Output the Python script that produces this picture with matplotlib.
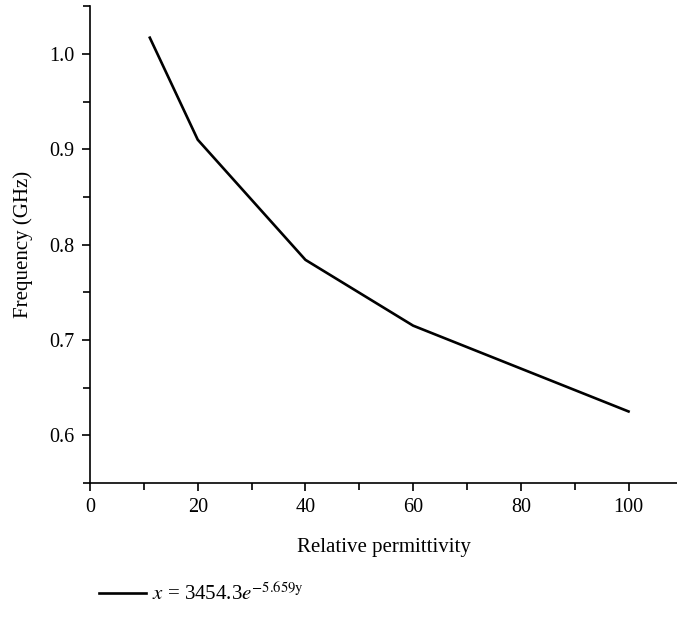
import matplotlib
matplotlib.use("Agg")
from matplotlib import pyplot as plt
from matplotlib.ticker import MultipleLocator, FormatStrFormatter

plt.rcParams['font.family'] = ['Liberation Serif', 'DejaVu Serif']
plt.rcParams['mathtext.fontset'] = 'stix'

permittivity = [11.1, 20, 40, 60, 100]
frequency = [1.017, 0.910, 0.784, 0.715, 0.625]
fit_label = r'$x$ = 3454.3$e^{-5.659\mathrm{y}}$'

fig = plt.figure(figsize=(6.77, 6.22), dpi=100)
ax = fig.add_axes([0.133, 0.2235, 0.867, 0.7665])

line, = ax.plot(permittivity, frequency, '-', color='black', linewidth=1.9)

ax.set_xlim(0, 109)
ax.set_ylim(0.55, 1.05)
ax.xaxis.set_major_locator(MultipleLocator(20))
ax.xaxis.set_minor_locator(MultipleLocator(10))
ax.yaxis.set_major_locator(MultipleLocator(0.1))
ax.yaxis.set_minor_locator(MultipleLocator(0.05))
ax.yaxis.set_major_formatter(FormatStrFormatter('%.1f'))

for s in ['top', 'right']:
    ax.spines[s].set_visible(False)
for s in ['left', 'bottom']:
    ax.spines[s].set_linewidth(1.2)
ax.tick_params(which='both', direction='out', width=1.2, labelsize=14.5, colors='black')
ax.tick_params(which='major', length=6, pad=5)
ax.tick_params(which='minor', length=5)

ax.set_xlabel('Relative permittivity', fontsize=15, labelpad=15)
ax.set_ylabel('Frequency (GHz)', fontsize=15, labelpad=12)

fig.legend([line], [fit_label], loc='center left', bbox_to_anchor=(0.118, 0.045),
           frameon=False, fontsize=15, handlelength=2.25, handletextpad=0.3)

fig.savefig('out.png', dpi=100)
